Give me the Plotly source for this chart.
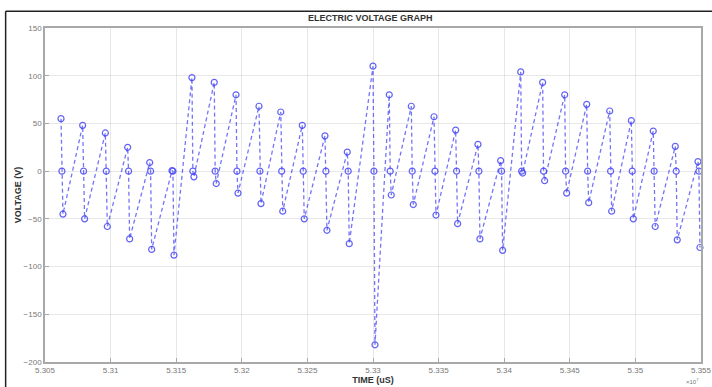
import plotly.graph_objects as go

# cycle data: peak time (uS), peak voltage, trough voltage
peak_times = [53062200, 53078700, 53096000, 53113000, 53129800, 53146800, 53162000,
              53179000, 53195600, 53213100, 53229700, 53246100, 53263400, 53280400,
              53300000, 53312400, 53329200, 53346500, 53363000, 53380000, 53397300,
              53412600, 53429300, 53446100, 53462900, 53480400, 53496900, 53513600,
              53530400, 53547700]
zero_times = [t + 700 for t in peak_times]
trough_times = [t + 1500 for t in peak_times]
peak_values = [55, 48, 40, 25, 9, 0.5, 98, 93, 80, 68, 62, 48, 37, 20,
               110, 80, 68, 57, 43, 28, 11, 104, 93, 80, 70, 63, 53, 42, 26, 10]
trough_values = [-45, -50, -58, -71, -82, -88, -6, -13, -23, -34, -42, -50, -62, -76,
                 -182, -25, -35, -46, -55, -71, -83, -2, -10, -23, -33, -42, -50, -58,
                 -72, -80]

x_tick_vals = [53050000, 53100000, 53150000, 53200000, 53250000, 53300000,
               53350000, 53400000, 53450000, 53500000, 53550000]
x_tick_text = ["5.305", "5.31", "5.315", "5.32", "5.325", "5.33",
               "5.335", "5.34", "5.345", "5.35", "5.355"]
y_tick_vals = [-200, -150, -100, -50, 0, 50, 100, 150]

xs, ys = [], []
for tp, tz, tt, vp, vt in zip(peak_times, zero_times, trough_times, peak_values, trough_values):
    xs += [tp, tz, tt]
    ys += [vp, 0, vt]

fig = go.Figure()
fig.add_trace(go.Scatter(
    x=xs, y=ys, mode="lines+markers",
    line=dict(color="rgba(70,70,245,0.75)", width=1.3, dash="4px,3px"),
    marker=dict(symbol="circle-open", size=6, color="rgba(70,70,245,0.85)",
                line=dict(width=1.2)),
    showlegend=False, cliponaxis=False,
))

axis_common = dict(
    showgrid=True, gridcolor="rgba(0,0,0,0.09)", gridwidth=1,
    showline=True, linecolor="#a8a8a8", linewidth=1.5, mirror=True,
    ticks="inside", ticklen=4, tickcolor="#a8a8a8",
    tickfont=dict(family="Arial, Liberation Sans", size=8, color="#777777"),
    zeroline=False, automargin=False,
)

fig.update_xaxes(range=[53050000, 53550000], tickvals=x_tick_vals, ticktext=x_tick_text,
                 title=dict(text="<b>TIME (uS)</b>", standoff=0,
                            font=dict(family="Arial, Liberation Sans", size=9, color="#333333")),
                 **axis_common)
fig.update_yaxes(range=[-200, 150], tickvals=y_tick_vals,
                 title=dict(text="<b>VOLTAGE (V)</b>", standoff=0,
                            font=dict(family="Arial, Liberation Sans", size=9, color="#333333")),
                 **axis_common)

fig.update_layout(
    width=712, height=387,
    margin=dict(l=45, r=11, t=28, b=25, autoexpand=False),
    paper_bgcolor="white", plot_bgcolor="white",
    title=dict(text="<b>ELECTRIC VOLTAGE GRAPH</b>", x=0.52, xanchor="center",
               y=0.955, yanchor="middle",
               font=dict(family="Arial, Liberation Sans", size=9, color="#333333")),
    annotations=[dict(text="\u00d710<sup>7</sup>", xref="paper", yref="paper",
                      x=1.0, y=-0.038, xanchor="right", yanchor="top", showarrow=False,
                      font=dict(family="Arial, Liberation Sans", size=6, color="#777777"))],
    shapes=[
        dict(type="line", xref="paper", yref="paper", x0=-0.06, x1=1.02, y0=1.05, y1=1.05,
             line=dict(color="#222222", width=1.5)),
        dict(type="line", xref="paper", yref="paper", x0=-0.06, x1=-0.06, y0=1.05, y1=-0.1,
             line=dict(color="#222222", width=1.5)),
    ],
)

fig.write_html("out.html")
